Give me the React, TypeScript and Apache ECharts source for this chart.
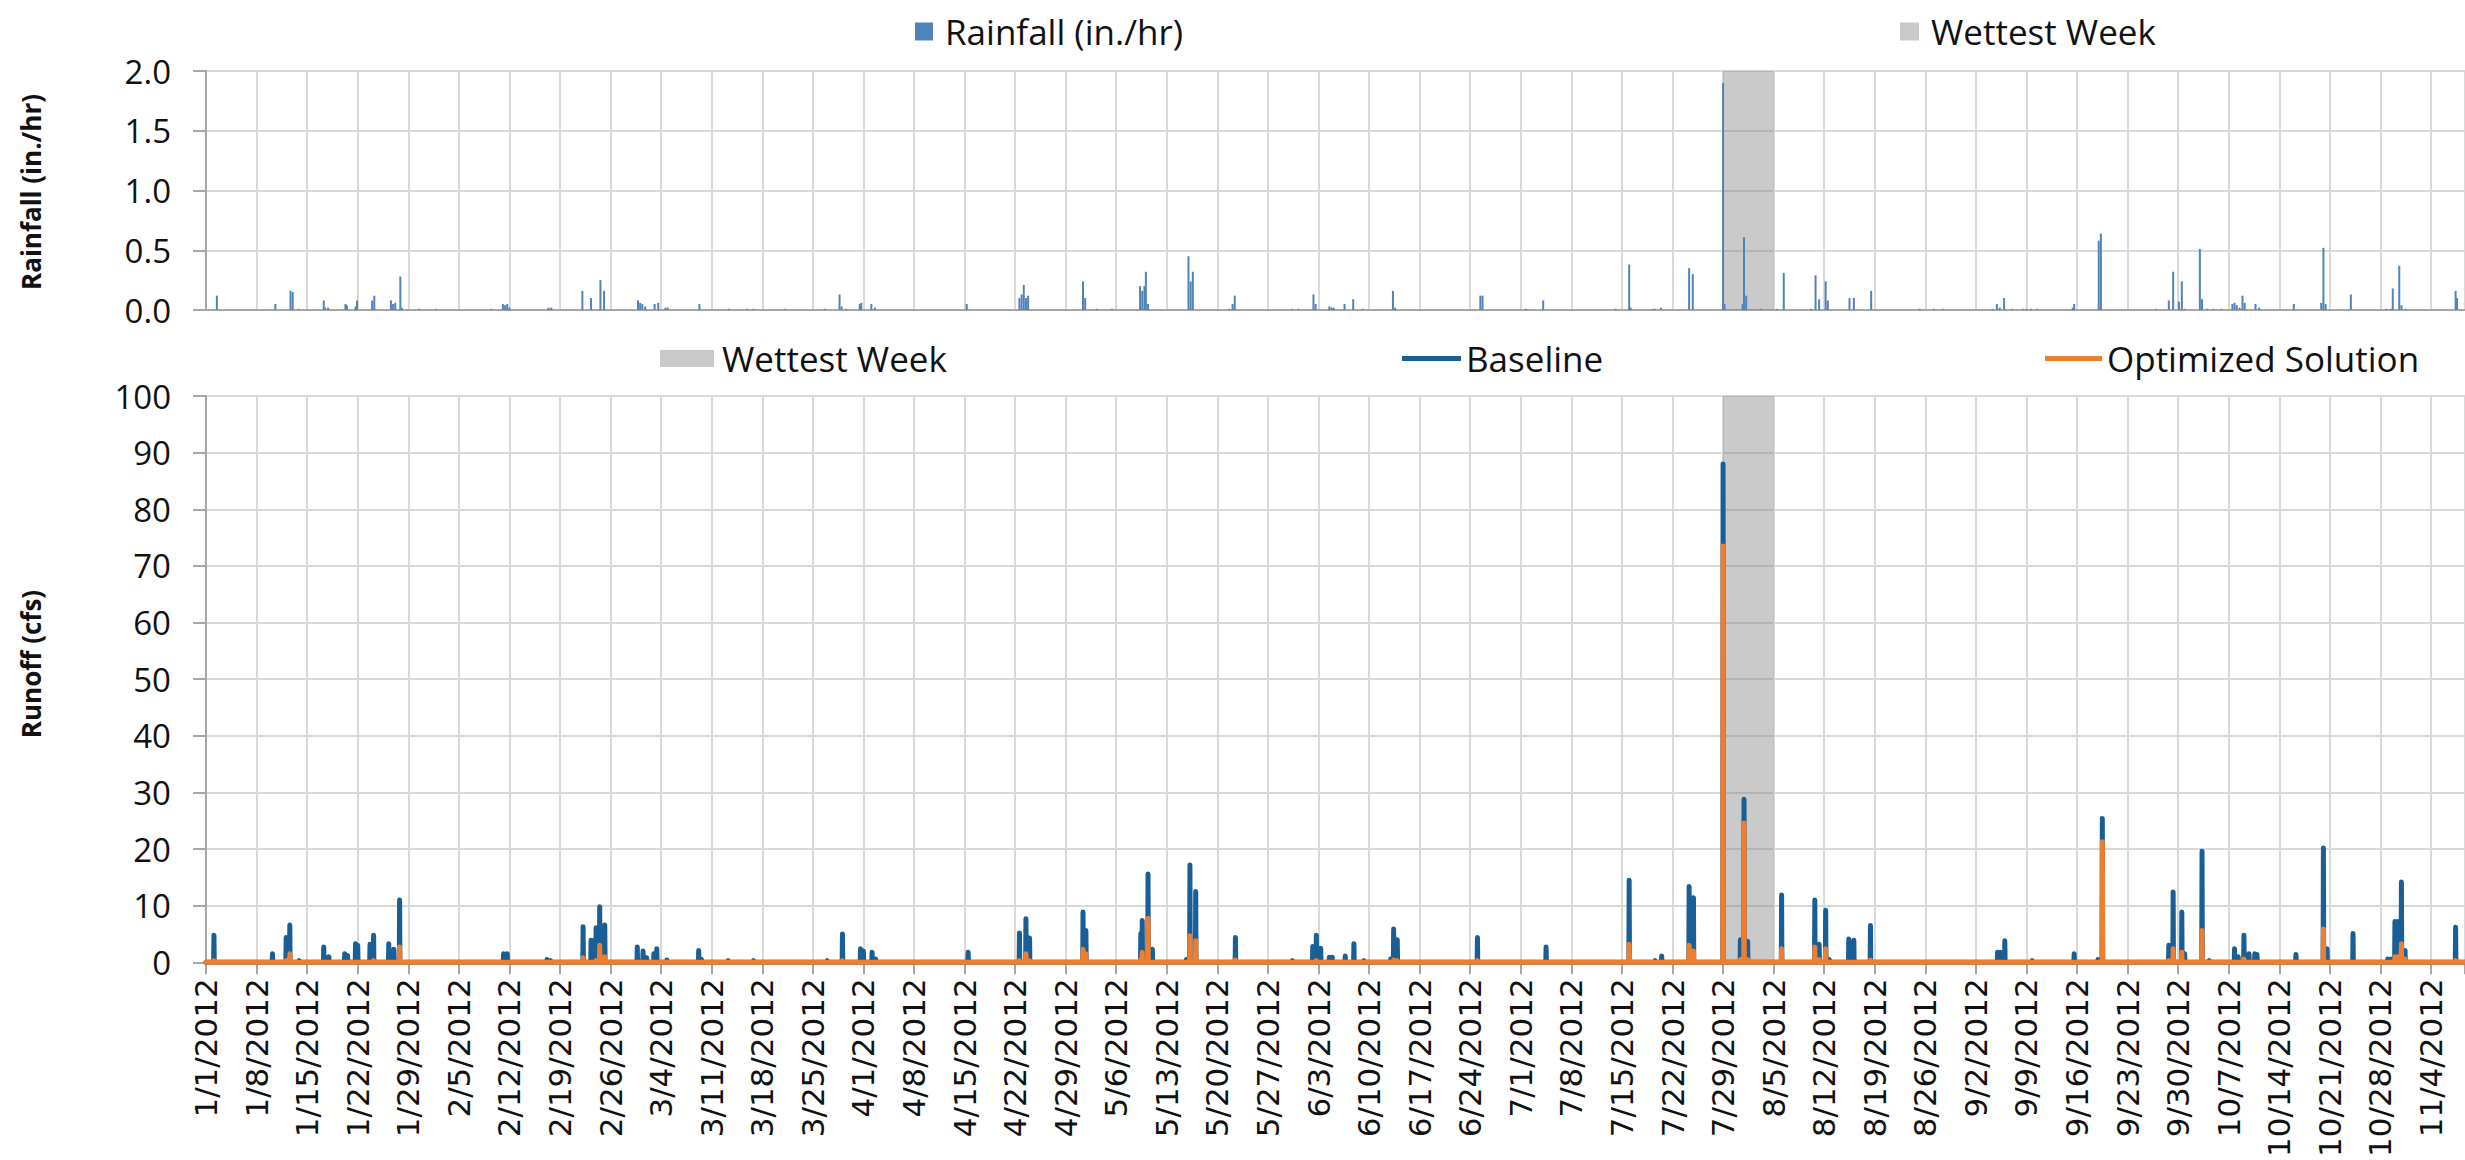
import React, { useEffect, useRef } from "react";
import * as echarts from "echarts";

// ---- Data (day offsets since 1/1/2012) ----
const RAIN_DAYS = [
  1.5, 9.6, 11.7, 12.0, 12.8, 16.3, 16.5, 16.9, 19.3, 19.5, 20.7, 20.9, 23.0, 23.3, 25.6, 25.9, 26.2, 26.9, 27.1,
  29.5, 31.8, 39.5, 41.1, 41.4, 41.7, 42.0, 47.4, 47.8, 52.1, 53.3, 54.6, 55.1, 59.8, 60.1, 60.4, 60.8, 62.1, 62.6,
  63.6, 63.9, 68.3, 72.4, 74.9, 75.8, 80.2, 85.7, 87.7, 88.0, 88.6, 90.5, 90.7, 92.1, 92.6, 105.3, 112.6, 112.9,
  113.2, 113.5, 113.8, 121.4, 121.7, 123.3, 125.4, 129.3, 129.6, 129.9, 130.1, 130.4, 136.0, 136.3, 136.6, 141.6,
  142.1, 142.4, 150.3, 151.2, 153.3, 153.6, 155.5, 155.8, 156.1, 157.6, 158.8, 160.1, 164.3, 164.6, 176.4, 176.7,
  182.7, 185.1, 195.1, 197.0, 197.2, 200.3, 200.6, 201.4, 205.3, 205.8, 210.0, 210.2, 212.7, 212.9, 213.2, 215.2,
  217.5, 218.4, 222.2, 222.8, 223.3, 224.2, 224.5, 227.5, 228.1, 230.5, 237.2, 239.2, 240.4, 247.3, 247.9, 248.3,
  248.9, 250.0, 251.5, 252.0, 252.6, 253.5, 258.4, 258.6, 262.0, 262.3, 269.9, 271.7, 272.3, 273.1, 273.5, 273.9,
  276.0, 276.3, 277.0, 277.9, 279.0, 280.5, 280.8, 281.1, 281.5, 281.9, 282.2, 283.7, 284.2, 289.0, 292.8, 293.1,
  293.4, 296.9, 301.8, 302.4, 302.7, 303.6, 303.9, 304.5, 311.4, 311.6,
];
const RAINFALL = [
  0.12, 0.05, 0.16, 0.15, 0.01, 0.08, 0.02, 0.02, 0.05, 0.04, 0.03, 0.08, 0.08, 0.12, 0.08, 0.05, 0.06, 0.28, 0.02,
  0.01, 0.01, 0.01, 0.05, 0.04, 0.05, 0.02, 0.02, 0.02, 0.16, 0.1, 0.25, 0.16, 0.08, 0.06, 0.05, 0.03, 0.05, 0.06,
  0.02, 0.02, 0.05, 0.01, 0.01, 0.01, 0.01, 0.01, 0.13, 0.03, 0.01, 0.05, 0.06, 0.05, 0.02, 0.05, 0.1, 0.13,
  0.21, 0.1, 0.12, 0.24, 0.1, 0.01, 0.01, 0.2, 0.16, 0.2, 0.32, 0.05, 0.45, 0.24, 0.32, 0.01,
  0.05, 0.12, 0.01, 0.01, 0.13, 0.05, 0.03, 0.02, 0.02, 0.05, 0.09, 0.01, 0.16, 0.02, 0.12, 0.12,
  0.01, 0.08, 0.01, 0.38, 0.02, 0.01, 0.01, 0.02, 0.35, 0.3, 1.9, 0.05, 0.05, 0.61, 0.12, 0.01,
  0.01, 0.31, 0.01, 0.29, 0.09, 0.24, 0.08, 0.1, 0.1, 0.16, 0.01, 0.01, 0.01, 0.01, 0.05, 0.02,
  0.1, 0.01, 0.01, 0.01, 0.01, 0.01, 0.02, 0.05, 0.58, 0.64, 0.01, 0.08, 0.32, 0.07, 0.24, 0.01,
  0.51, 0.09, 0.01, 0.01, 0.01, 0.05, 0.06, 0.04, 0.02, 0.12, 0.06, 0.05, 0.02, 0.05, 0.06, 0.52,
  0.05, 0.13, 0.01, 0.01, 0.18, 0.37, 0.04, 0.01, 0.16, 0.1,
];

const RUNOFF_DAYS = [
  1.1, 9.2, 11.1, 11.6, 12.9, 16.3, 17.0, 19.2, 19.6, 20.7, 21.0, 22.7, 23.2, 25.3, 26.0, 26.8, 41.2, 41.7, 47.2,
  47.7, 52.2, 53.3, 53.7, 54.0, 54.5, 55.2, 59.7, 60.5, 61.0, 62.0, 62.4, 63.8, 68.2, 68.6, 72.3, 75.8,
  86.0, 88.1, 90.6, 91.0, 92.2, 92.7, 105.5, 112.6, 113.5, 114.0, 121.4, 121.8, 129.4, 129.6, 130.4, 131.0,
  135.7, 136.2, 137.0, 142.5, 150.4, 153.2, 153.7, 154.3,
  155.5, 155.9, 157.7, 158.9, 160.3, 164.0, 164.4, 164.9, 176.0, 185.5, 197.0, 200.6, 201.5, 205.3, 205.9,
  210.0, 212.4, 212.9, 213.4, 218.1, 222.7, 223.3, 224.2, 224.7, 227.4, 228.1, 230.4,
  248.0, 248.4, 249.0, 252.8, 258.6, 261.9, 262.5, 271.7, 272.3, 273.5, 273.9, 276.3, 277.3, 280.8, 281.3,
  282.1, 282.8, 283.6, 283.9, 289.3, 293.1, 293.6, 297.2, 302.0, 302.5, 303.0, 303.4, 303.9, 304.4, 311.4,
];
const BASELINE = [
  4.8, 1.5, 4.4, 6.6, 0.3, 2.7, 1.0, 1.5, 1.2, 3.3, 3.0, 3.2, 4.8, 3.3, 2.3, 11.0, 1.5, 1.5, 0.5,
  0.3, 6.3, 3.9, 3.9, 6.1, 9.8, 6.6, 2.7, 2.0, 0.8, 1.5, 2.4, 0.4, 2.1, 0.5, 0.3, 0.3,
  0.3, 5.0, 2.4, 2.0, 1.8, 0.6, 1.8, 5.2, 7.7, 4.3, 8.9, 5.6, 5.1, 7.4, 15.6, 2.3,
  0.5, 17.2, 12.5, 4.4, 0.3, 2.8, 4.8, 2.5,
  0.9, 0.9, 1.1, 3.3, 0.3, 0.6, 5.9, 4.0, 4.4, 2.7, 14.5, 0.3, 1.1, 13.4, 11.4,
  88.0, 4.0, 28.8, 3.7, 11.9, 11.0, 3.2, 9.2, 0.5, 4.1, 3.9, 6.5,
  1.8, 1.8, 3.8, 0.3, 1.5, 0.5, 25.4, 3.0, 12.4, 8.9, 1.5, 19.6, 0.3, 2.4, 1.0,
  4.8, 1.5, 1.5, 1.4, 1.4, 20.2, 2.4, 5.1, 0.6, 0.6, 7.2, 7.2, 14.2, 2.1, 6.2,
];
const OPTIMIZED = [
  0.3, 0, 0.3, 1.5, 0, 0, 0, 0, 0, 0, 0, 0, 0.3, 0, 0, 2.7, 0, 0, 0,
  0, 0.8, 0, 0, 0.3, 3.0, 1.0, 0, 0, 0, 0, 0, 0, 0, 0, 0, 0,
  0, 0.3, 0, 0, 0, 0, 0, 0.3, 1.5, 0.3, 2.3, 1.5, 0.5, 1.8, 7.8, 0,
  0, 4.7, 3.8, 0.4, 0, 0, 0.3, 0,
  0, 0, 0, 0, 0, 0, 0.4, 0.3, 0.3, 0, 3.2, 0, 0, 3.0, 2.0,
  73.5, 0.5, 24.6, 0.5, 2.4, 2.7, 0.5, 2.4, 0, 0, 0, 0.4,
  0, 0, 0, 0, 0, 0, 21.3, 0.3, 2.4, 1.8, 0, 5.6, 0, 0, 0,
  0.6, 0, 0, 0, 0, 5.9, 0, 0, 0, 0, 1.0, 1.0, 3.3, 0.6, 0.3,
];

const WETTEST_WEEK = [210, 217];
const X_MAX = 312.7;
const WEEK = 7;
const RAIN_MAX = 2;
const RUNOFF_MAX = 100;

// ---- helpers ----
function dayLabel(v: number): string {
  const r = Math.round(v);
  if (Math.abs(v - r) > 1e-6 || r % WEEK !== 0) return "";
  const d = new Date(Date.UTC(2012, 0, 1) + r * 86400000);
  return `${d.getUTCMonth() + 1}/${d.getUTCDate()}/2012`;
}

// hourly series: zero except at the recorded peaks
function hourly(days: number[], vals: number[]): number[][] {
  const h = 1 / 24;
  const pts: number[][] = [[0, 0]];
  days.forEach((d, i) => {
    pts.push([d - h, 0], [d, vals[i]], [d + h, 0]);
  });
  pts.push([X_MAX, 0]);
  return pts;
}

const AXIS_GRAY = "#A6A6A6";
const GRID_GRAY = "#D9D9D9";
const SHADE = "rgba(128,128,128,0.42)";
const SHADE_SOLID = "#C9C9C9";
const RAIN_BLUE = "#5283B8";
const BASE_BLUE = "#1A5E96";
const ORANGE = "#ED7D31";
const FONT = "Open Sans";

const legendText = (pad: number) => ({
  fontFamily: FONT,
  fontSize: 35,
  color: "#111",
  padding: [0, 0, 0, pad],
});

function buildOption(): any {
  const yCommon = (idx: number, max: number, interval: number, fmt: (v: number) => string) => ({
    type: "value",
    gridIndex: idx,
    min: 0,
    max,
    interval,
    axisLine: { show: true, lineStyle: { color: AXIS_GRAY, width: 2 } },
    axisTick: { show: true, length: 13, lineStyle: { color: AXIS_GRAY, width: 2 } },
    axisLabel: { formatter: fmt, margin: 35, fontFamily: FONT, fontSize: 33, color: "#111" },
    splitLine: { show: true, lineStyle: { color: GRID_GRAY, width: 2 } },
  });

  const axisTitle = (text: string, cy: number) => ({
    type: "text",
    x: 31,
    y: cy,
    rotation: Math.PI / 2,
    style: {
      text,
      fontFamily: FONT,
      fontWeight: "bold",
      fontSize: 26,
      fill: "#111",
      textAlign: "center",
      textVerticalAlign: "middle",
    },
  });

  return {
    animation: false,
    backgroundColor: "#ffffff",
    textStyle: { fontFamily: FONT },
    graphic: [axisTitle("Rainfall (in./hr)", 192), axisTitle("Runoff (cfs)", 664)],
    grid: [
      { left: 206, top: 71, height: 239, right: -10, show: true, borderColor: AXIS_GRAY, borderWidth: 2 },
      { left: 206, top: 396, height: 590, right: -10, show: true, borderColor: AXIS_GRAY, borderWidth: 2 },
    ],
    xAxis: [
      {
        type: "value",
        gridIndex: 0,
        min: 0,
        max: X_MAX,
        interval: WEEK,
        axisLine: { show: true, onZero: false, lineStyle: { color: AXIS_GRAY, width: 2 } },
        axisTick: { show: false },
        axisLabel: { show: false },
        splitLine: { show: true, lineStyle: { color: GRID_GRAY, width: 2 } },
      },
      {
        type: "value",
        gridIndex: 1,
        min: 0,
        max: X_MAX,
        interval: WEEK,
        axisLine: { show: true, onZero: false, lineStyle: { color: AXIS_GRAY, width: 2 } },
        axisTick: { show: true, length: 12, lineStyle: { color: AXIS_GRAY, width: 2 } },
        axisLabel: {
          rotate: 90,
          margin: 16,
          formatter: dayLabel,
          fontFamily: "DejaVu Sans",
          fontSize: 31,
          color: "#111",
        },
        splitLine: { show: true, lineStyle: { color: GRID_GRAY, width: 2 } },
      },
    ],
    yAxis: [
      yCommon(0, RAIN_MAX, 0.5, (v: number) => v.toFixed(1)),
      yCommon(1, RUNOFF_MAX, 10, (v: number) => String(v)),
    ],
    legend: [
      {
        data: [{ name: "Rainfall (in./hr)", icon: "rect" }],
        left: 910,
        top: 9,
        itemWidth: 18,
        itemHeight: 18,
        selectedMode: false,
        textStyle: legendText(7),
      },
      {
        data: [{ name: "Wettest Week", icon: "rect", itemStyle: { color: SHADE_SOLID } }],
        left: 1895,
        top: 9,
        itemWidth: 19,
        itemHeight: 18,
        selectedMode: false,
        textStyle: legendText(7),
      },
      {
        data: [{ name: "Wettest Week", icon: "rect", itemStyle: { color: SHADE_SOLID } }],
        left: 655,
        top: 336,
        itemWidth: 54,
        itemHeight: 17,
        selectedMode: false,
        textStyle: legendText(3),
      },
      {
        data: [{ name: "Baseline", icon: "rect" }],
        left: 1397,
        top: 336,
        itemWidth: 59,
        itemHeight: 5,
        selectedMode: false,
        textStyle: legendText(0),
      },
      {
        data: [{ name: "Optimized Solution", icon: "rect" }],
        left: 2040,
        top: 336,
        itemWidth: 57,
        itemHeight: 5,
        selectedMode: false,
        textStyle: legendText(0),
      },
    ],
    series: [
      {
        name: "Wettest Week",
        type: "line",
        xAxisIndex: 0,
        yAxisIndex: 0,
        data: WETTEST_WEEK.map((d) => [d, RAIN_MAX]),
        symbol: "none",
        lineStyle: { width: 0 },
        areaStyle: { color: SHADE, opacity: 1 },
        itemStyle: { color: SHADE },
        z: 1,
        silent: true,
      },
      {
        name: "Rainfall (in./hr)",
        type: "bar",
        xAxisIndex: 0,
        yAxisIndex: 0,
        data: RAIN_DAYS.map((d, i) => [d, RAINFALL[i]]),
        barWidth: 2,
        itemStyle: { color: RAIN_BLUE },
        z: 2,
      },
      {
        name: "Wettest Week",
        type: "line",
        xAxisIndex: 1,
        yAxisIndex: 1,
        data: WETTEST_WEEK.map((d) => [d, RUNOFF_MAX]),
        symbol: "none",
        lineStyle: { width: 0 },
        areaStyle: { color: SHADE, opacity: 1 },
        itemStyle: { color: SHADE },
        z: 1,
        silent: true,
      },
      {
        name: "Baseline",
        type: "line",
        xAxisIndex: 1,
        yAxisIndex: 1,
        data: hourly(RUNOFF_DAYS, BASELINE),
        symbol: "none",
        clip: false,
        lineStyle: { color: BASE_BLUE, width: 5, cap: "round", join: "round" },
        itemStyle: { color: BASE_BLUE },
        z: 3,
      },
      {
        name: "Optimized Solution",
        type: "line",
        xAxisIndex: 1,
        yAxisIndex: 1,
        data: hourly(RUNOFF_DAYS, OPTIMIZED),
        symbol: "none",
        clip: false,
        lineStyle: { color: ORANGE, width: 5, cap: "round", join: "round" },
        itemStyle: { color: ORANGE },
        z: 4,
      },
    ],
  };
}

export default function App() {
  const ref = useRef<HTMLDivElement>(null);
  useEffect(() => {
    if (!ref.current) return;
    const chart = echarts.init(ref.current, null, { renderer: "svg" });
    chart.setOption(buildOption());
    return () => chart.dispose();
  }, []);
  return (
    <div
      ref={ref}
      style={{ position: "fixed", left: 0, top: 0, width: 2465, height: 1160, background: "#fff" }}
    />
  );
}
